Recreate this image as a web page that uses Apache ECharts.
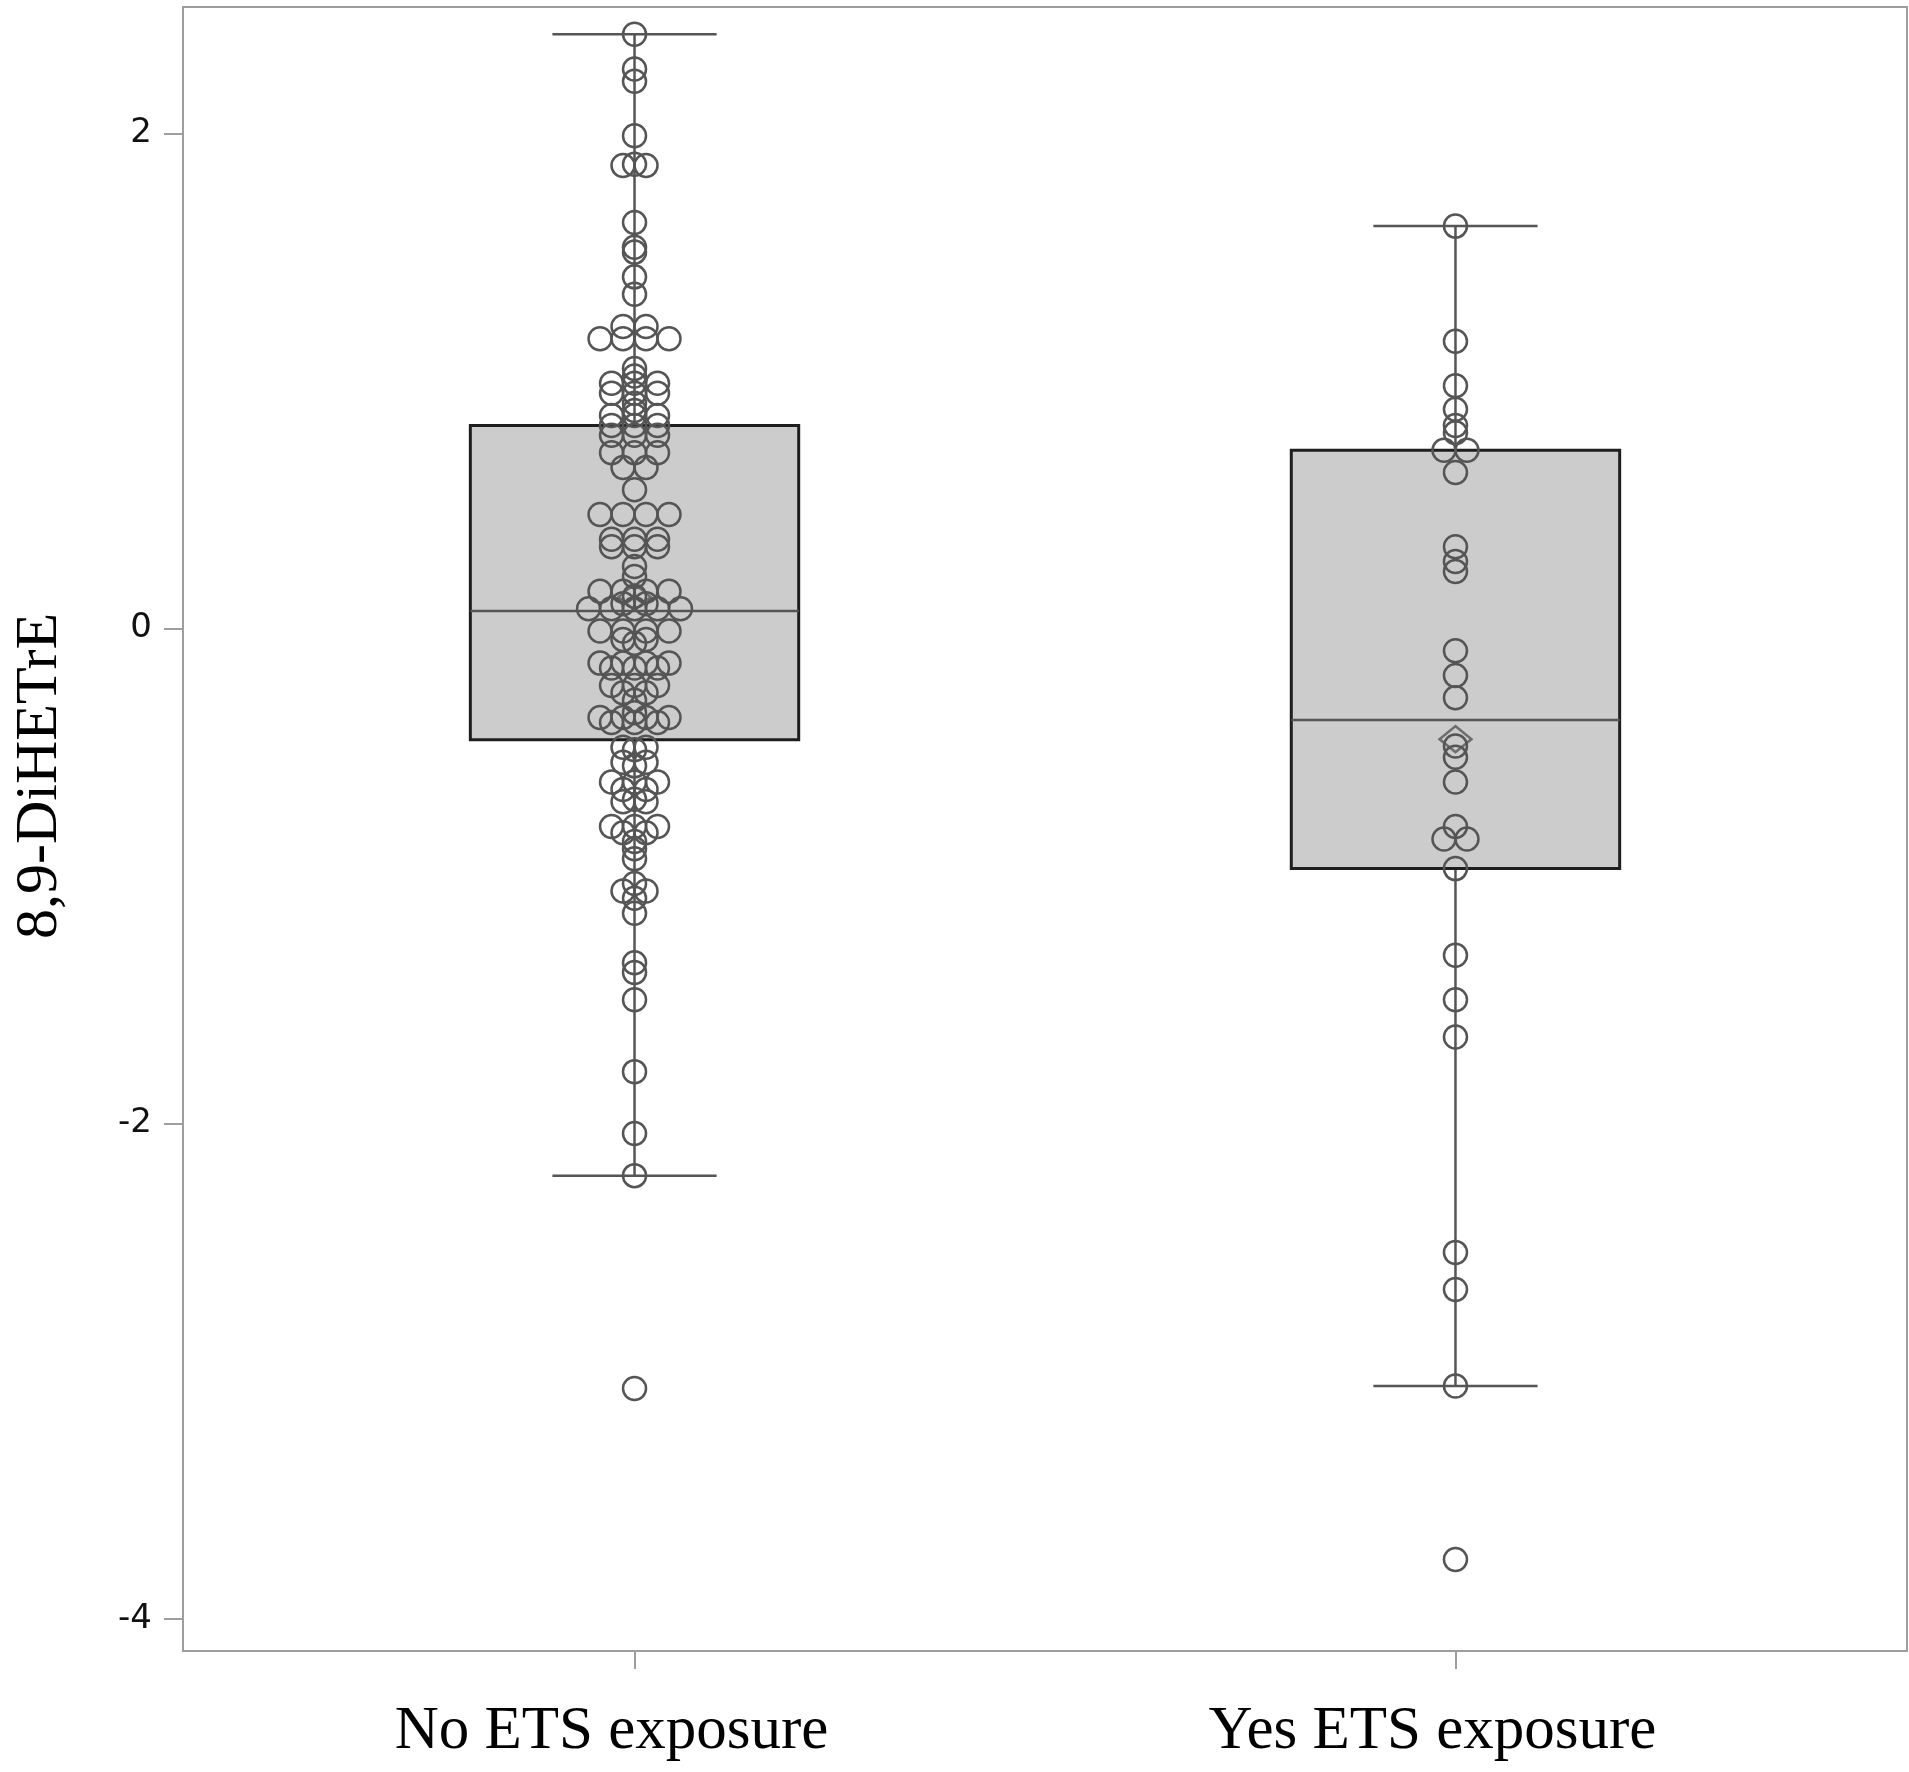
<!DOCTYPE html>
<html>
<head>
<meta charset="utf-8">
<script src="https://cdn.jsdelivr.net/npm/echarts@6/dist/echarts.min.js"></script>
<style>
  html, body { margin: 0; padding: 0; background: #fff; }
  #chart { width: 1909px; height: 1772px; }
</style>
</head>
<body>
<div id="chart"></div>
<script>
const categories = ['No ETS exposure', 'Yes ETS exposure'];
const yTicks = [-4, -2, 0, 2];
const yTitle = '8,9-DiHETrE';

// Equal values are drawn side by side (jittered), like the original.
const noEtsValues = [
  2.40, 2.26, 2.21, 1.99, 1.875, 1.87, 1.87, 1.64, 1.54, 1.52, 1.42, 1.35,
  1.22, 1.22, 1.17, 1.17, 1.17, 1.17, 1.05, 1.02,
  0.99, 0.99, 0.99, 0.95, 0.95, 0.95, 0.91, 0.88, 0.86, 0.86, 0.86, 0.82, 0.82, 0.82,
  0.78, 0.78, 0.78, 0.71, 0.71, 0.71, 0.65, 0.65, 0.56, 0.46, 0.46, 0.46, 0.46,
  0.36, 0.36, 0.36, 0.33, 0.33, 0.33, 0.25, 0.21,
  0.15, 0.15, 0.15, 0.15, 0.13, 0.10, 0.10, 0.08, 0.08, 0.08, 0.08, 0.08,
  -0.01, -0.01, -0.01, -0.01, -0.045, -0.045, -0.06,
  -0.14, -0.14, -0.14, -0.14, -0.16, -0.16, -0.16, -0.23, -0.23, -0.23, -0.26, -0.26, -0.29,
  -0.34, -0.36, -0.36, -0.36, -0.36, -0.38, -0.38, -0.38,
  -0.48, -0.48, -0.49, -0.54, -0.54, -0.555, -0.62, -0.62, -0.62, -0.65, -0.65, -0.69, -0.70, -0.70,
  -0.80, -0.80, -0.80, -0.825, -0.825, -0.86, -0.89, -0.93,
  -1.03, -1.06, -1.06, -1.09, -1.15,
  -1.35, -1.39, -1.50, -1.79, -2.04, -2.21, -3.07
];

const yesEtsValues = [
  1.625, 1.16, 0.98, 0.885, 0.82, 0.79, 0.72, 0.72, 0.63, 0.33, 0.27, 0.23,
  -0.09, -0.19, -0.28, -0.475, -0.52, -0.62, -0.80, -0.85, -0.85, -0.97,
  -1.32, -1.50, -1.65, -2.52, -2.67, -3.06, -3.76
];

// [lower whisker, Q1, median, Q3, upper whisker]
const noEtsBox = [-2.21, -0.45, 0.07, 0.82, 2.40];
const yesEtsBox = [-3.06, -0.97, -0.37, 0.72, 1.625];

// ---- layout helper (not data): spread equal values sideways ----
const STEP = 0.028;   // one marker diameter, in x-axis units

function jitter(values, cat) {
  const groups = {};
  values.forEach(v => {
    const k = v.toFixed(3);
    (groups[k] = groups[k] || []).push(v);
  });
  const out = [];
  Object.keys(groups).forEach(k => {
    const arr = groups[k];
    arr.forEach((v, i) => out.push([cat + (i - (arr.length - 1) / 2) * STEP, v]));
  });
  return out;
}
function mean(a) { return a.reduce((s, v) => s + v, 0) / a.length; }

const boxData = [[0].concat(noEtsBox), [1].concat(yesEtsBox)];
const pointData = jitter(noEtsValues, 0).concat(jitter(yesEtsValues, 1));
const meanData = [[0, mean(noEtsValues)], [1, mean(yesEtsValues)]];

const LINE = '#555555';
const FRAME = '#9e9e9e';

const chart = echarts.init(document.getElementById('chart'), null, { renderer: 'canvas' });

chart.setOption({
  animation: false,
  backgroundColor: '#ffffff',
  grid: {
    left: 183, top: 7, width: 1724, height: 1644,
    show: true, borderColor: FRAME, borderWidth: 2,
    containLabel: false, outerBoundsMode: 'none'
  },
  xAxis: {
    type: 'value', min: -0.55, max: 1.55,
    axisLine: { show: true, onZero: false, lineStyle: { color: FRAME, width: 2 } },
    axisTick: { show: true, customValues: [0, 1], length: 18, lineStyle: { color: FRAME, width: 2 } },
    axisLabel: {
      customValues: [0, 1],
      formatter: v => categories[Math.round(v)],
      fontFamily: 'Liberation Serif', fontSize: 61, color: '#000', margin: 50,
      padding: [0, 46, 0, 0]
    },
    splitLine: { show: false }
  },
  yAxis: {
    type: 'value', min: -4.13, max: 2.51,
    axisLine: { show: true, onZero: false, lineStyle: { color: FRAME, width: 2 } },
    axisTick: { show: true, customValues: yTicks, length: 19, lineStyle: { color: FRAME, width: 2 } },
    axisLabel: {
      customValues: yTicks,
      fontFamily: 'DejaVu Sans', fontSize: 34, color: '#111', margin: 31
    },
    splitLine: { show: false }
  },
  graphic: [{
    type: 'text', x: 40, y: 776, rotation: Math.PI / 2,
    style: {
      text: yTitle, font: '60px "Liberation Serif"', fill: '#000',
      align: 'center', verticalAlign: 'middle'
    }
  }],
  series: [
    {
      type: 'custom',
      z: 1,
      data: boxData,
      encode: { x: 0, y: [1, 2, 3, 4, 5] },
      renderItem: function (params, api) {
        const x = api.value(0);
        const low = api.value(1), q1 = api.value(2), med = api.value(3), q3 = api.value(4), high = api.value(5);
        const hw = 0.2, cw = 0.1;
        const c = (xx, yy) => api.coord([xx, yy]);
        const tl = c(x - hw, q3);
        const br = c(x + hw, q1);
        const lineStyle = { stroke: LINE, lineWidth: 2.5 };
        return {
          type: 'group',
          children: [
            { type: 'line', shape: { x1: c(x, q3)[0], y1: c(x, q3)[1], x2: c(x, high)[0], y2: c(x, high)[1] }, style: lineStyle },
            { type: 'line', shape: { x1: c(x, q1)[0], y1: c(x, q1)[1], x2: c(x, low)[0], y2: c(x, low)[1] }, style: lineStyle },
            { type: 'line', shape: { x1: c(x - cw, high)[0], y1: c(x, high)[1], x2: c(x + cw, high)[0], y2: c(x, high)[1] }, style: lineStyle },
            { type: 'line', shape: { x1: c(x - cw, low)[0], y1: c(x, low)[1], x2: c(x + cw, low)[0], y2: c(x, low)[1] }, style: lineStyle },
            { type: 'rect', shape: { x: tl[0], y: tl[1], width: br[0] - tl[0], height: br[1] - tl[1] },
              style: { fill: '#cccccc', stroke: '#1e1e1e', lineWidth: 3 } },
            { type: 'line', shape: { x1: c(x - hw, med)[0], y1: c(x, med)[1], x2: c(x + hw, med)[0], y2: c(x, med)[1] },
              style: { stroke: LINE, lineWidth: 2.5 } }
          ]
        };
      }
    },
    {
      type: 'scatter',
      z: 3,
      data: pointData,
      symbol: 'circle',
      symbolSize: 23,
      itemStyle: { color: 'rgba(0,0,0,0)', borderColor: LINE, borderWidth: 2.5, opacity: 1 },
      emphasis: { disabled: true }
    },
    {
      type: 'scatter',
      z: 4,
      data: meanData,
      symbol: 'diamond',
      symbolSize: [32, 26],
      itemStyle: { color: 'rgba(0,0,0,0)', borderColor: LINE, borderWidth: 2.5 },
      emphasis: { disabled: true }
    }
  ]
});
</script>
</body>
</html>
